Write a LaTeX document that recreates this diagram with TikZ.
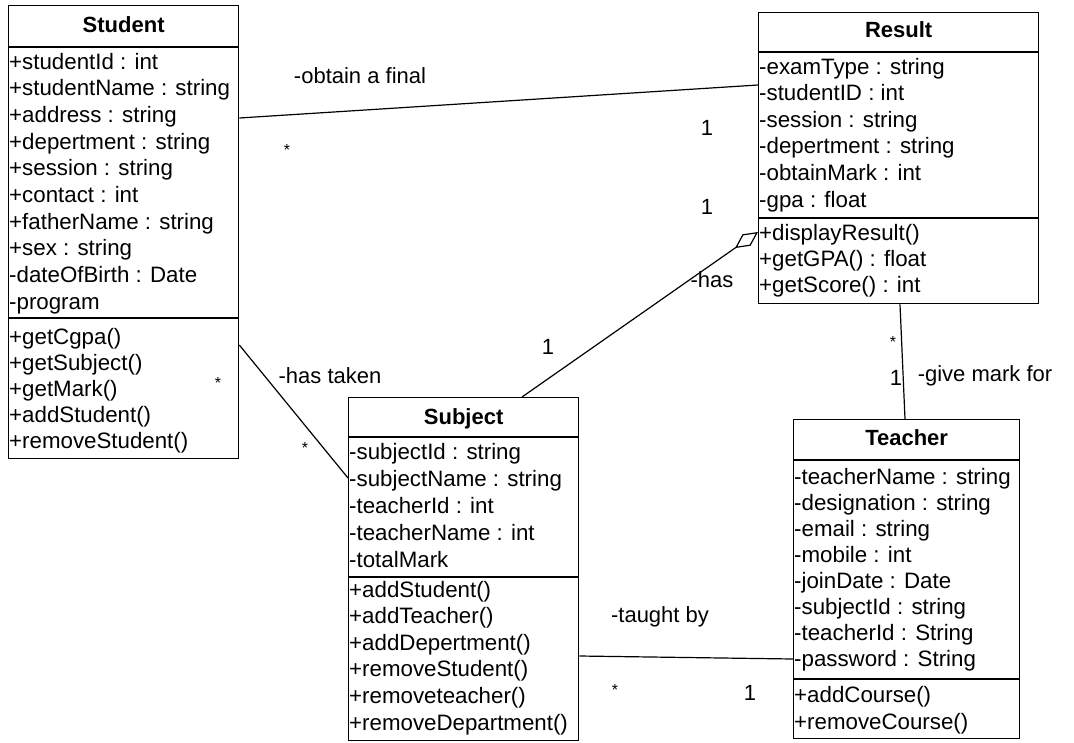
\documentclass[tikz,border=0pt]{standalone}
\usepackage{fontspec}
\setmainfont{Liberation Sans}
\usetikzlibrary{arrows.meta,calc}
\tikzset{
  classbox/.style={draw=black, line width=1.3pt, fill=white, inner sep=0pt, anchor=north west},
  classtitle/.style={font=\bfseries\fontsize{22}{26}\selectfont, inner sep=0pt, anchor=base},
  row/.style={font=\fontsize{22.3}{26}\selectfont, inner sep=0pt, anchor=base west},
  sepline/.style={line width=1.6pt},
  assoc/.style={line width=1.2pt},
  lbl/.style={font=\fontsize{22}{26}\selectfont, inner sep=0pt},
  star/.style={font=\fontsize{16}{20}\selectfont, inner sep=0pt},
}
\begin{document}
\begin{tikzpicture}[x=1pt,y=-1pt]
\useasboundingbox (0,0) rectangle (1074,742);
\fill[white] (0,0) rectangle (1074,742);

% ---------- Student ----------
\node[classbox, minimum width=230pt, minimum height=453pt] (student) at (8,5) {};
\draw[sepline] ($(student.north west)+(0,42)$) -- ($(student.north east)+(0,42)$);
\draw[sepline] ($(student.north west)+(0,313)$) -- ($(student.north east)+(0,313)$);
\node[classtitle] (studentT) at ($(student.north)+(0,27)$) {Student};
\foreach \t [count=\i] in {+studentId : int,+studentName : string,+address : string,+depertment : string,+session : string,+contact : int,+fatherName : string,+sex : string,-dateOfBirth : Date,-program}
  \node[row] (studentA\i) at ($(student.north west)+(1,{64+26.7*(\i-1)})$) {\t};
\foreach \t [count=\i] in {+getCgpa(),+getSubject(),+getMark(),+addStudent(),+removeStudent()}
  \node[row] (studentM\i) at ($(student.north west)+(1,{339+26.2*(\i-1)})$) {\t};

% ---------- Result ----------
\node[classbox, minimum width=280pt, minimum height=291pt] (result) at (758,12) {};
\draw[sepline] ($(result.north west)+(0,40)$) -- ($(result.north east)+(0,40)$);
\draw[sepline] ($(result.north west)+(0,206)$) -- ($(result.north east)+(0,206)$);
\node[classtitle] (resultT) at ($(result.north)+(0,25)$) {Result};
\foreach \t [count=\i] in {-examType : string,-studentID : int,-session : string,-depertment : string,-obtainMark : int,-gpa : float}
  \node[row] (resultA\i) at ($(result.north west)+(1,{62+26.6*(\i-1)})$) {\t};
\foreach \t [count=\i] in {+displayResult(),+getGPA() : float,+getScore() : int}
  \node[row] (resultM\i) at ($(result.north west)+(1,{228+26*(\i-1)})$) {\t};

% ---------- Subject ----------
\node[classbox, minimum width=230pt, minimum height=343pt] (subject) at (348,397) {};
\draw[sepline] ($(subject.north west)+(0,40)$) -- ($(subject.north east)+(0,40)$);
\draw[sepline] ($(subject.north west)+(0,180)$) -- ($(subject.north east)+(0,180)$);
\node[classtitle] (subjectT) at ($(subject.north)+(0,27)$) {Subject};
\foreach \t [count=\i] in {-subjectId : string,-subjectName : string,-teacherId : int,-teacherName : int,-totalMark}
  \node[row] (subjectA\i) at ($(subject.north west)+(1,{62+27*(\i-1)})$) {\t};
\foreach \t [count=\i] in {+addStudent(),+addTeacher(),+addDepertment(),+removeStudent(),+removeteacher(),+removeDepartment()}
  \node[row] (subjectM\i) at ($(subject.north west)+(1,{200+26.6*(\i-1)})$) {\t};

% ---------- Teacher ----------
\node[classbox, minimum width=226pt, minimum height=319pt] (teacher) at (793,419) {};
\draw[sepline] ($(teacher.north west)+(0,41)$) -- ($(teacher.north east)+(0,41)$);
\draw[sepline] ($(teacher.north west)+(0,260)$) -- ($(teacher.north east)+(0,260)$);
\node[classtitle] (teacherT) at ($(teacher.north)+(0,26)$) {Teacher};
\foreach \t [count=\i] in {-teacherName : string,-designation : string,-email : string,-mobile : int,-joinDate : Date,-subjectId : string,-teacherId : String,-password : String}
  \node[row] (teacherA\i) at ($(teacher.north west)+(1,{65+26.1*(\i-1)})$) {\t};
\foreach \t [count=\i] in {+addCourse(),+removeCourse()}
  \node[row] (teacherM\i) at ($(teacher.north west)+(1,{283+27*(\i-1)})$) {\t};

% ---------- Connectors ----------
\draw[assoc] ($(student.north east)+(0,113)$) -- ($(result.north west)+(0,73)$);
\draw[assoc] ($(student.north east)+(0,340)$) -- ($(subject.north west)+(0,81)$);
\draw[assoc, -{Diamond[open, length=28pt, width=14pt, line width=1.2pt]}]
  ($(subject.north west)+(174,0)$) -- ($(result.north west)+(0,220)$);
\draw[assoc] ($(result.south west)+(142,0)$) -- ($(teacher.north west)+(112,0)$);
\draw[assoc] ($(subject.north east)+(0,259)$) -- ($(teacher.north west)+(0,240)$);

% ---------- Labels ----------
\node[lbl] (l1) at (360,76) {-obtain a final};
\node[star] (l2) at (287,150) {*};
\node[lbl] (l3) at (707,128) {1};
\node[lbl] (l4) at (330,376) {-has taken};
\node[star] (l5) at (218,383) {*};
\node[star] (l6) at (305,448) {*};
\node[lbl] (l7) at (548,347) {1};
\node[lbl] (l8) at (707,207) {1};
\node[lbl] (l9) at (712,280) {-has};
\node[star] (l10) at (893,342) {*};
\node[lbl] (l11) at (896,378) {1};
\node[lbl] (l12) at (985,376) {-give mark for};
\node[lbl] (l13) at (660,617) {-taught by};
\node[star] (l14) at (615,690) {*};
\node[lbl] (l15) at (750,693) {1};
\end{tikzpicture}
\end{document}
